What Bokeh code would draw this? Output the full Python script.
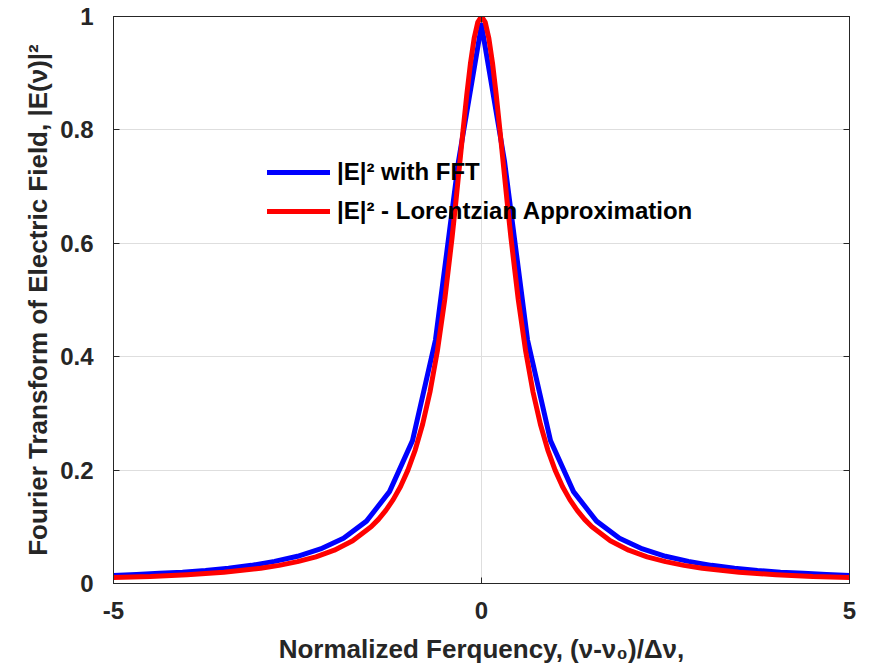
from bokeh.plotting import figure
from bokeh.models import (Range1d, FixedTicker, NumeralTickFormatter, LinearAxis,
                          Legend, LegendItem, Label)
from bokeh.embed import file_html
from bokeh.resources import INLINE

# ---- data ----
fft_x = [-5.0, -4.6875, -4.375, -4.0625, -3.75, -3.4375, -3.125, -2.8125, -2.5,
         -2.1875, -1.875, -1.5625, -1.25, -0.9375, -0.625, -0.3125, 0.0,
         0.3125, 0.625, 0.9375, 1.25, 1.5625, 1.875, 2.1875, 2.5, 2.8125,
         3.125, 3.4375, 3.75, 4.0625, 4.375, 4.6875, 5.0]
fft_y = [0.014, 0.016, 0.018, 0.020, 0.023, 0.027, 0.032, 0.039, 0.048,
         0.061, 0.080, 0.110, 0.162, 0.252, 0.430, 0.745, 0.985,
         0.745, 0.430, 0.252, 0.162, 0.110, 0.080, 0.061, 0.048, 0.039,
         0.032, 0.027, 0.023, 0.020, 0.018, 0.016, 0.014]

lor_x = [-5.0, -4.5, -4.0, -3.5, -3.0, -2.75, -2.5, -2.25, -2.0, -1.75, -1.5,
         -1.4, -1.3, -1.2, -1.1, -1.0, -0.9, -0.8, -0.7, -0.6, -0.5, -0.4,
         -0.35, -0.3, -0.25, -0.2, -0.15, -0.1, -0.05, 0.0,
         0.05, 0.1, 0.15, 0.2, 0.25, 0.3, 0.35, 0.4, 0.5, 0.6, 0.7, 0.8, 0.9,
         1.0, 1.1, 1.2, 1.3, 1.4, 1.5, 1.75, 2.0, 2.25, 2.5, 2.75, 3.0, 3.5,
         4.0, 4.5, 5.0]
lor_y = [0.0105, 0.0122, 0.0154, 0.0200, 0.0270, 0.0320, 0.0385, 0.0471,
         0.0588, 0.0755, 0.1000, 0.1131, 0.1289, 0.1479, 0.1712, 0.2000,
         0.2358, 0.2809, 0.3378, 0.4098, 0.5000, 0.6098, 0.6711, 0.7353,
         0.8000, 0.8621, 0.9174, 0.9615, 0.9901, 1.0,
         0.9901, 0.9615, 0.9174, 0.8621, 0.8000, 0.7353, 0.6711, 0.6098,
         0.5000, 0.4098, 0.3378, 0.2809, 0.2358, 0.2000, 0.1712, 0.1479,
         0.1289, 0.1131, 0.1000, 0.0755, 0.0588, 0.0471, 0.0385, 0.0320,
         0.0270, 0.0200, 0.0154, 0.0122, 0.0105]

x_ticks = [-5, 0, 5]
y_ticks = [0, 0.2, 0.4, 0.6, 0.8, 1]
legend_labels = ["|E|\u00b2 with FFT", "|E|\u00b2 - Lorentzian Approximation"]
x_label = "Normalized Ferquency, (\u03bd-\u03bd\u2080)/\u0394\u03bd,"
y_label = "Fourier Transform of Electric Field, |E(\u03bd)|\u00b2"
top_text = "cor"

FONT = "Liberation Sans"
AX = "#262626"

p = figure(width=869, height=672, output_backend="svg", toolbar_location=None,
           x_range=Range1d(-5, 5), y_range=Range1d(0, 1),
           min_border_left=113, min_border_right=20, min_border_top=16,
           min_border_bottom=89, x_axis_location=None, y_axis_location=None)
p.outline_line_color = AX
p.outline_line_width = 1
p.background_fill_color = "white"
p.border_fill_color = "white"


def style_axis(ax, ticks, show_labels):
    ax.ticker = FixedTicker(ticks=ticks)
    ax.axis_line_color = AX
    ax.axis_line_width = 1
    ax.major_tick_line_color = AX
    ax.major_tick_in = 6
    ax.major_tick_out = 0
    ax.minor_tick_line_color = None
    ax.major_label_text_font = FONT
    ax.major_label_text_font_style = "bold"
    ax.major_label_text_color = "#262626"
    ax.major_label_text_font_size = "24px"
    if show_labels:
        ax.formatter = NumeralTickFormatter(format="0.[0]")
    else:
        ax.major_label_overrides = {t: "" for t in ticks}
        ax.major_label_standoff = 0
    ax.axis_label_text_font = FONT
    ax.axis_label_text_font_style = "bold"
    ax.axis_label_text_font_size = "26px"
    ax.axis_label_text_color = "#262626"


xb = LinearAxis()
style_axis(xb, x_ticks, True)
xb.axis_label = x_label
xb.major_label_standoff = 18
xb.axis_label_standoff = 12
p.add_layout(xb, "below")

yl = LinearAxis()
style_axis(yl, y_ticks, True)
yl.axis_label = y_label
yl.major_label_standoff = 20
yl.axis_label_standoff = 4
p.add_layout(yl, "left")

xt = LinearAxis()
style_axis(xt, x_ticks, False)
p.add_layout(xt, "above")

yr = LinearAxis()
style_axis(yr, y_ticks, False)
p.add_layout(yr, "right")

p.xgrid.ticker = FixedTicker(ticks=x_ticks)
p.ygrid.ticker = FixedTicker(ticks=y_ticks)
for g in (p.xgrid, p.ygrid):
    g.grid_line_color = "#dedede"
    g.grid_line_width = 1

r_fft = p.line(fft_x, fft_y, line_color="#0000ff", line_width=5,
               line_join="round", line_cap="round")
r_lor = p.line(lor_x, lor_y, line_color="#ff0000", line_width=5,
               line_join="round", line_cap="round")

legend = Legend(items=[LegendItem(label=legend_labels[0], renderers=[r_fft]),
                       LegendItem(label=legend_labels[1], renderers=[r_lor])],
                location=(154, 358), padding=0, margin=0, spacing=11,
                glyph_width=63, glyph_height=20, label_height=20,
                label_standoff=7, border_line_color=None,
                background_fill_alpha=0,
                label_text_font=FONT, label_text_font_style="bold",
                label_text_font_size="24px", label_text_color="black")
p.add_layout(legend, "center")

lab = Label(x=1.98, y=1.0194, text=top_text, text_font=FONT,
            text_font_style="bold", text_font_size="16px",
            text_color="#262626", text_baseline="alphabetic")
p.add_layout(lab)

open("out.html", "w").write(file_html(p, INLINE))
